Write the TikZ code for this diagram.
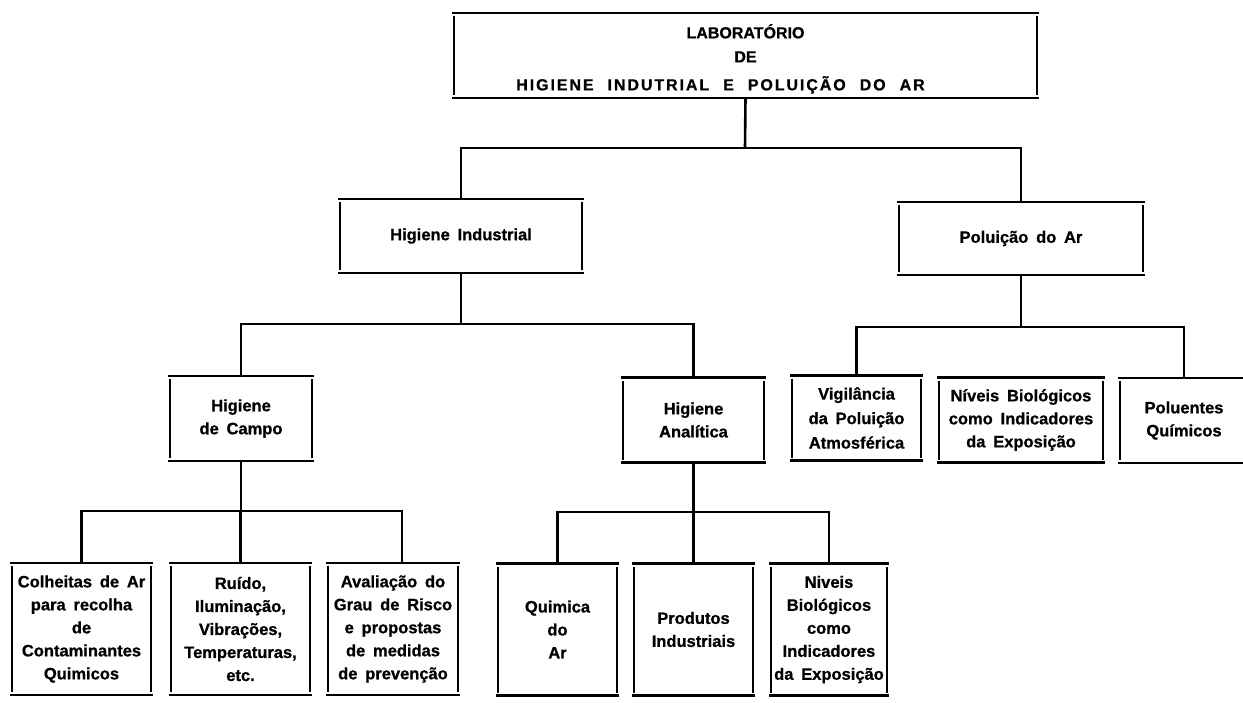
\documentclass[tikz,border=0pt]{standalone}
\usepackage{fontspec}
\setmainfont{Liberation Sans}[BoldFeatures={FakeBold=0.8}]
\newfontfamily\boxfont[WordSpace=1.7,BoldFeatures={FakeBold=0.8}]{Liberation Sans}
\newfontfamily\titlefont[LetterSpace=12,WordSpace=2.2,BoldFeatures={FakeBold=0.8}]{Liberation Sans}
\begin{document}
\begin{tikzpicture}[x=1pt,y=-1pt,
  rule/.style={line width=2.6pt},
  unit/.style={inner sep=0pt, outer sep=0pt, align=center,
    font=\boxfont\bfseries\fontsize{16.5}{23}\selectfont},
  lower/.style={unit, minimum width=#1, minimum height=132pt},
  mid/.style={unit, minimum width=#1, minimum height=85pt}]
\useasboundingbox (0,0) rectangle (1243,702);
\fill[white] (0,0) rectangle (1243,702);
\clip (0,0) rectangle (1243,702);

% head of the organisation chart
\node[unit, minimum width=583pt, minimum height=85pt,
  font=\bfseries\fontsize{16}{24}\selectfont] (T) at (745.5,55.5)
  {\rule{0pt}{21pt}LABORATÓRIO\\DE\\[4pt]{\titlefont HIGIENE INDUTRIAL E POLUIÇÃO DO AR}\kern50pt};

% second level
\node[unit, minimum width=242pt, minimum height=74pt] (HI) at (461,236) {Higiene Industrial};
\node[unit, minimum width=244pt, minimum height=73pt] (PA) at (1021,238.5) {Poluição do Ar};

% third level
\node[mid=142pt] (HC) at (241,418.5) {Higiene\\de Campo};
\node[mid=141pt] (HA) at (693.5,420) {Higiene\\Analítica};
\node[mid=129pt, font=\boxfont\bfseries\fontsize{16.5}{24.5}\selectfont] (V) at (856.5,418) {Vigilância\\da Poluição\\Atmosférica};
\node[mid=164pt] (NB) at (1021,420) {Níveis Biológicos\\como Indicadores\\da Exposição};
\node[mid=128pt] (PQ) at (1184,420.5) {Poluentes\\Químicos};

% bottom level
\node[lower=139pt] (B1) at (81.5,629) {Colheitas de Ar\\para recolha\\de\\Contaminantes\\Quimicos};
\node[lower=139pt] (B2) at (240.5,629) {Ruído,\\Iluminação,\\Vibrações,\\Temperaturas,\\etc.};
\node[lower=130pt] (B3) at (393,629) {Avaliação do\\Grau de Risco\\e propostas\\de medidas\\de prevenção};
\node[lower=119pt] (B4) at (557.5,629.5) {Quimica\\do\\Ar};
\node[lower=119pt] (B5) at (693.5,629.5) {Produtos\\Industriais};
\node[lower=116pt] (B6) at (829,629.5) {Niveis\\Biológicos\\como\\Indicadores\\da Exposição};

% box outlines: full-width rules top and bottom, inset sides
\foreach \n in {T,HI,PA,HC,HA,V,NB,PQ,B1,B2,B3,B4,B5,B6} {
  \draw[rule] ([xshift=-2pt]\n.north west) -- ([xshift=2pt]\n.north east);
  \draw[rule] ([xshift=-2pt]\n.south west) -- ([xshift=2pt]\n.south east);
  \draw[rule] ([yshift=-3pt]\n.north west) -- ([yshift=3pt]\n.south west);
  \draw[rule] ([yshift=-3pt]\n.north east) -- ([yshift=3pt]\n.south east);
}

% connectors
\coordinate (j1) at (745,148);
\draw[rule] (T.south) -- (j1);
\draw[rule] (HI.north) -- (HI.north |- j1) -- (PA.north |- j1) -- (PA.north);

\coordinate (j2) at (463,324);
\draw[rule] (HI.south) -- (HI.south |- j2);
\draw[rule] (HC.north) -- (HC.north |- j2) -- (HA.north |- j2) -- (HA.north);

\coordinate (j3) at (1021,327);
\draw[rule] (PA.south) -- (PA.south |- j3);
\draw[rule] (V.north) -- (V.north |- j3) -- (PQ.north |- j3) -- (PQ.north);

\coordinate (j4) at (241,511);
\coordinate (b3in) at ([xshift=9pt]B3.north);
\draw[rule] (HC.south) -- (HC.south |- j4);
\draw[rule] (B1.north) -- (B1.north |- j4) -- (b3in |- j4) -- (b3in);
\draw[rule] (B2.north) -- (B2.north |- j4);

\coordinate (j5) at (693,512);
\draw[rule] (HA.south) -- (HA.south |- j5);
\draw[rule] (B4.north) -- (B4.north |- j5) -- (B6.north |- j5) -- (B6.north);
\draw[rule] (B5.north) -- (B5.north |- j5);
\end{tikzpicture}
\end{document}
